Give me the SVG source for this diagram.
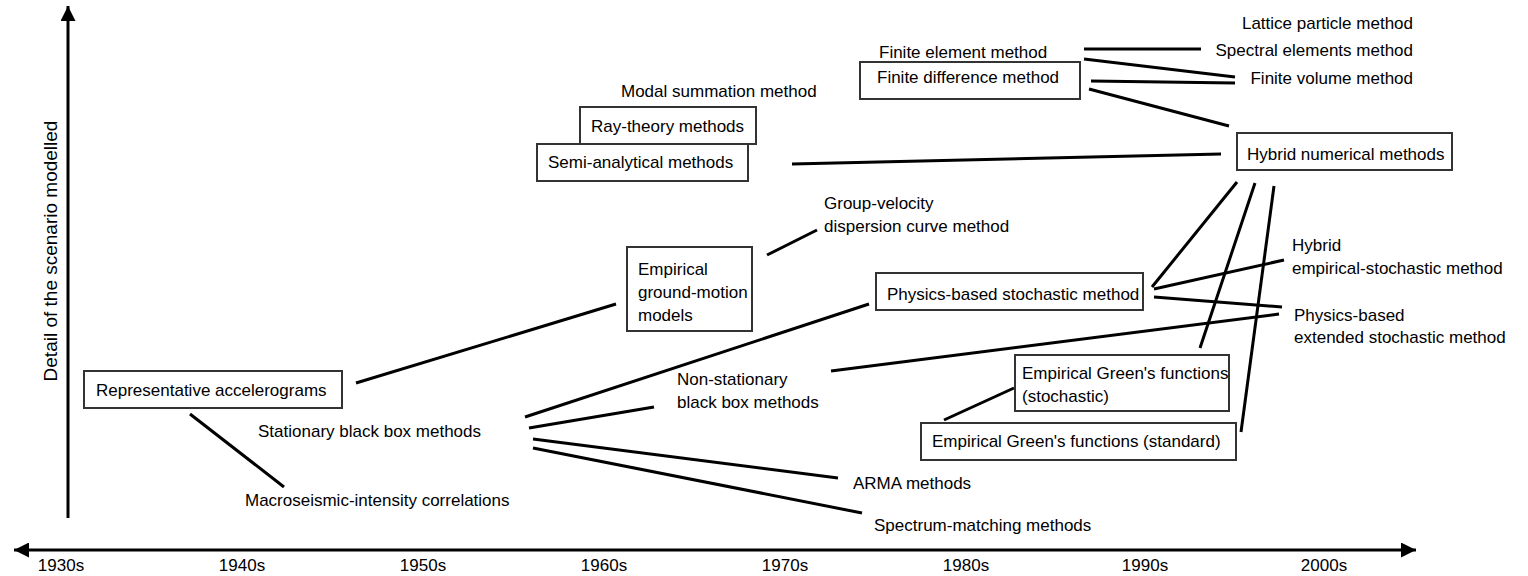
<svg xmlns="http://www.w3.org/2000/svg" width="1528" height="576" viewBox="0 0 1528 576">
<defs>
<style>
text{font-family:"Liberation Sans",Arial,sans-serif;font-size:17px;fill:#000}
.box{fill:#fff;stroke:#333;stroke-width:2}
.c line{stroke:#000;stroke-width:3;stroke-linecap:butt}
.ax{stroke:#000;stroke-width:3;fill:none}
.dec{text-anchor:middle}
.ylab{font-size:19px;text-anchor:middle}
</style>
<marker id="ah" viewBox="0 0 10 10" refX="10" refY="5" markerWidth="5" markerHeight="5" markerUnits="strokeWidth" orient="auto-start-reverse"><path d="M0,0L10,5L0,10z" fill="#000"/></marker>
</defs>
<rect width="1528" height="576" fill="#fff"/>
<g id="axes">
<line class="ax" x1="68" y1="518" x2="68" y2="6" marker-end="url(#ah)"/>
<line class="ax" x1="14" y1="550" x2="1416" y2="550" marker-start="url(#ah)" marker-end="url(#ah)"/>
<text class="ylab" transform="translate(57,251) rotate(-90)">Detail of the scenario modelled</text>
<text class="dec" x="61" y="571">1930s</text>
<text class="dec" x="242" y="571">1940s</text>
<text class="dec" x="423" y="571">1950s</text>
<text class="dec" x="604" y="571">1960s</text>
<text class="dec" x="785" y="571">1970s</text>
<text class="dec" x="966" y="571">1980s</text>
<text class="dec" x="1145" y="571">1990s</text>
<text class="dec" x="1324" y="571">2000s</text>
</g>
<g class="c" id="connectors">
<line x1="356" y1="383" x2="616" y2="304"/>
<line x1="190" y1="414" x2="284" y2="487"/>
<line x1="767" y1="255" x2="817" y2="230"/>
<line x1="525" y1="417" x2="869" y2="304"/>
<line x1="529" y1="428" x2="654" y2="407"/>
<line x1="533" y1="439" x2="838" y2="478"/>
<line x1="533" y1="448" x2="862" y2="513"/>
<line x1="792" y1="164" x2="1221" y2="154"/>
<line x1="1084" y1="49" x2="1201" y2="49"/>
<line x1="1084" y1="59" x2="1235" y2="77"/>
<line x1="1091" y1="81" x2="1235" y2="83"/>
<line x1="1089" y1="89" x2="1229" y2="126"/>
<line x1="1237" y1="182" x2="1152" y2="287"/>
<line x1="1255" y1="183" x2="1200" y2="348"/>
<line x1="1274" y1="186" x2="1241" y2="432"/>
<line x1="1154" y1="289" x2="1284" y2="260"/>
<line x1="1154" y1="297" x2="1282" y2="307"/>
<line x1="831" y1="371" x2="1279" y2="314"/>
<line x1="944" y1="420" x2="1014" y2="388"/>
</g>
<g id="rep-accel"><rect class="box" x="84" y="371" width="258" height="37"/><text x="96" y="396">Representative accelerograms</text></g>
<g id="stationary"><text x="258" y="437">Stationary black box methods</text></g>
<g id="macroseismic"><text x="245" y="506">Macroseismic-intensity correlations</text></g>
<g id="egmm"><rect class="box" x="627" y="247" width="125" height="84"/><text x="638" y="275">Empirical</text><text x="638" y="298">ground-motion</text><text x="638" y="321">models</text></g>
<g id="group-velocity"><text x="824" y="209">Group-velocity</text><text x="824" y="232">dispersion curve method</text></g>
<g id="modal"><text x="621" y="97">Modal summation method</text></g>
<g id="ray"><rect class="box" x="580" y="107" width="176" height="37"/><text x="591" y="132">Ray-theory methods</text></g>
<g id="semi"><rect class="box" x="537" y="144" width="211" height="37"/><text x="548" y="168">Semi-analytical methods</text></g>
<g id="fem"><text x="879" y="58">Finite element method</text></g>
<g id="fd"><rect class="box" x="860" y="62" width="220" height="37"/><text x="877" y="83">Finite difference method</text></g>
<g id="lattice"><text x="1413" y="29" text-anchor="end">Lattice particle method</text></g>
<g id="spectral"><text x="1413" y="56" text-anchor="end">Spectral elements method</text></g>
<g id="fv"><text x="1413" y="84" text-anchor="end">Finite volume method</text></g>
<g id="hybrid-num"><rect class="box" x="1237" y="133" width="215" height="37"/><text x="1247" y="160">Hybrid numerical methods</text></g>
<g id="nonstat"><text x="677" y="385">Non-stationary</text><text x="677" y="408">black box methods</text></g>
<g id="pbs"><rect class="box" x="876" y="273" width="267" height="37"/><text x="887" y="300">Physics-based stochastic method</text></g>
<g id="hybrid-es"><text x="1292" y="251">Hybrid</text><text x="1292" y="274">empirical-stochastic method</text></g>
<g id="pbes"><text x="1294" y="321">Physics-based</text><text x="1294" y="343">extended stochastic method</text></g>
<g id="egf-stoch"><rect class="box" x="1015" y="355" width="214" height="56"/><text x="1022" y="379">Empirical Green's functions</text><text x="1022" y="402">(stochastic)</text></g>
<g id="egf-std"><rect class="box" x="921" y="423" width="315" height="37"/><text x="932" y="447">Empirical Green's functions (standard)</text></g>
<g id="arma"><text x="853" y="489">ARMA methods</text></g>
<g id="spectrum"><text x="874" y="531">Spectrum-matching methods</text></g>
</svg>
